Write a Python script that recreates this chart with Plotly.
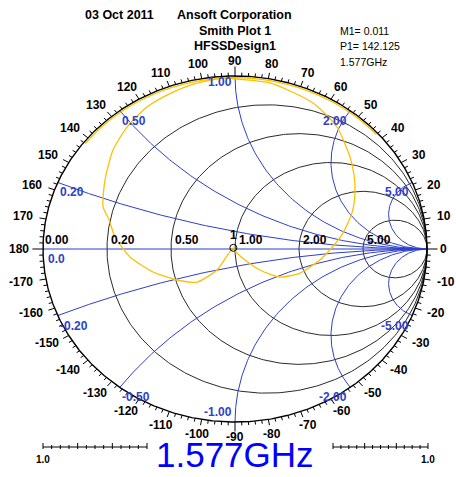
import numpy as np
import plotly.graph_objects as go

W, H = 456, 477
# chart geometry (pixels): centre and radii of the unit circle
CX, CY, RX, RY = 235.0, 249.0, 192.0, 173.0

# ---------------- data ----------------
resistance_values = [0.0, 0.2, 0.5, 1.0, 2.0, 5.0]
resistance_labels = ["0.00", "0.20", "0.50", "1.00", "2.00", "5.00"]
reactance_values = [0.0, 0.2, 0.5, 1.0, 2.0, 5.0, -0.2, -0.5, -1.0, -2.0, -5.0]
reactance_labels = ["0.0", "0.20", "0.50", "1.00", "2.00", "5.00",
                    "-0.20", "-0.50", "-1.00", "-2.00", "-5.00"]
angle_label_deg = [0, 10, 20, 30, 40, 50, 60, 70, 80, 90, 100, 110, 120, 130, 140,
                   150, 160, 170, 180, -170, -160, -150, -140, -130, -120, -110,
                   -100, -90, -80, -70, -60, -50, -40, -30, -20, -10]

# S11 trace (magnitude, phase in degrees)
s11_mag = [0.99, 0.99, 0.99, 0.99, 0.99, 0.99, 0.99, 0.99, 0.99,
           0.991, 0.977, 0.937, 0.883, 0.801, 0.753, 0.704, 0.644, 0.570, 0.480, 0.447,
           0.366, 0.285, 0.178, 0.082, 0.018, 0.011, 0.153, 0.275, 0.351, 0.447,
           0.549, 0.629, 0.677, 0.729, 0.786, 0.855, 0.902, 0.940, 0.960, 0.978,
           0.987,
           0.99, 0.99, 0.99, 0.99, 0.99, 0.99, 0.99, 0.99, 0.99, 0.99]
s11_phase = [142, 136, 130, 124, 118, 112, 106, 100, 96,
             94.5, 79.3, 64.3, 53.0, 41.6, 34.6, 27.4, 18.9, 9.3, -2.8, -8.2,
             -22.3, -34.7, -43.0, -50.7, -73.0, 142.125, -127.8, -136.0, -149.3, -162.7,
             -175.2, 173.7, 165.6, 160.5, 149.5, 138.0, 128.6, 119.2, 110.5, 102.8,
             95.5,
             93, 88, 82, 76, 70, 64, 58, 52, 46, 42]

marker_mag = 0.011
marker_phase = 142.125
marker_freq = "1.577GHz"

title_lines = ["Ansoft Corporation", "Smith Plot 1", "HFSSDesign1"]
date_text = "03 Oct 2011"
info_lines = ["M1= 0.011", "P1= 142.125", "1.577GHz"]

# ---------------- helpers ----------------
BLUE = "#2f3fc8"
GRID = "#2a2a2a"
YELLOW = "#FFC000"
FONT = "Arial, Liberation Sans, sans-serif"


def pxx(p):
    return p / W


def pxy(p):
    return 1 - p / H


fig = go.Figure()

# resistance circles
for r in resistance_values:
    if r == 0:
        continue
    t = np.linspace(0, 2 * np.pi, 361)
    c, a = r / (1 + r), 1 / (1 + r)
    fig.add_trace(go.Scatter(x=c + a * np.cos(t), y=a * np.sin(t), mode="lines",
                             line=dict(color=GRID, width=1), hoverinfo="skip"))

# reactance arcs
rr = np.concatenate([[0.0], np.logspace(-3, 3.5, 400)])
for xv in reactance_values:
    if xv == 0:
        gx, gy = [-1, 1], [0, 0]
    else:
        z = rr + 1j * xv
        g = (z - 1) / (z + 1)
        gx = np.append(g.real, 1.0)
        gy = np.append(g.imag, 0.0)
    fig.add_trace(go.Scatter(x=gx, y=gy, mode="lines",
                             line=dict(color=BLUE, width=1), hoverinfo="skip"))

# unit circle
t = np.linspace(0, 2 * np.pi, 721)
fig.add_trace(go.Scatter(x=np.cos(t), y=np.sin(t), mode="lines",
                         line=dict(color="black", width=1.4), hoverinfo="skip"))

# angle ticks
tx, ty = [], []
for d in range(0, 360, 2):
    th = np.deg2rad(d)
    if d % 90 == 0:
        L = 0.055
    elif d % 10 == 0:
        L = 0.034
    else:
        L = 0.02
    tx += [np.cos(th), (1 + L) * np.cos(th), None]
    ty += [np.sin(th), (1 + L) * np.sin(th), None]
fig.add_trace(go.Scatter(x=tx, y=ty, mode="lines",
                         line=dict(color="black", width=1), hoverinfo="skip"))

# S11 trace
ph = np.deg2rad(np.array(s11_phase))
mg = np.array(s11_mag)
fig.add_trace(go.Scatter(x=mg * np.cos(ph), y=mg * np.sin(ph), mode="lines",
                         line=dict(color=YELLOW, width=1.3, shape="spline", smoothing=0.6),
                         hoverinfo="skip"))

# marker
mp = np.deg2rad(marker_phase)
fig.add_trace(go.Scatter(x=[marker_mag * np.cos(mp)], y=[marker_mag * np.sin(mp)],
                         mode="markers+text", text=["<b>1</b>"], textposition="top center",
                         textfont=dict(family=FONT, size=12, color="black"),
                         marker=dict(symbol="circle-open", size=7, color="black",
                                     line=dict(width=1)),
                         hoverinfo="skip"))

ann = []
# angle labels
for d in angle_label_deg:
    th = np.deg2rad(d)
    s = str(d)
    w = 6.7 * len(s.replace("-", "")) + (4 if "-" in s else 0)
    ann.append(dict(x=1.055 * np.cos(th), y=1.055 * np.sin(th), xref="x", yref="y",
                    text="<b>%s</b>" % s, showarrow=False,
                    xshift=np.cos(th) * (w / 2 + 3), yshift=np.sin(th) * 5,
                    font=dict(family=FONT, size=12, color="black")))

# resistance labels
for r, lab in zip(resistance_values, resistance_labels):
    gx = (r - 1) / (r + 1)
    ann.append(dict(x=gx, y=0, xref="x", yref="y", text="<b>%s</b>" % lab,
                    showarrow=False, xanchor="left", yanchor="bottom",
                    xshift=0 if r == 0 else 2, yshift=0,
                    font=dict(family=FONT, size=12, color="black")))

# reactance labels
for xv, lab in zip(reactance_values, reactance_labels):
    z = 1j * xv
    g = (z - 1) / (z + 1)
    gx, gy = g.real, g.imag
    if xv == 0:
        gx, gy = -1.0, 0.0
    left = gx < -1e-9
    if xv == -1.0:
        ya, ys = "bottom", 1
    elif xv == 1.0:
        ya, ys = "top", 3
    else:
        ya, ys = "top", -1
    ann.append(dict(x=gx, y=gy, xref="x", yref="y", text="<b>%s</b>" % lab,
                    showarrow=False, xanchor="left" if left else "right",
                    yanchor=ya, xshift=(3 if xv == 0 else 0) if left else -1, yshift=ys,
                    font=dict(family=FONT, size=12, color=BLUE)))

# header
ann.append(dict(x=pxx(83), y=pxy(15), xref="paper", yref="paper", text="<b>%s</b>" % date_text,
                showarrow=False, xanchor="left", yanchor="middle",
                font=dict(family=FONT, size=12.5, color="black")))
ann.append(dict(x=pxx(175), y=pxy(15), xref="paper", yref="paper", text="<b>%s</b>" % title_lines[0],
                showarrow=False, xanchor="left", yanchor="middle",
                font=dict(family=FONT, size=12.5, color="black")))
for txt, yy in zip(title_lines[1:], [31, 46]):
    ann.append(dict(x=pxx(235), y=pxy(yy), xref="paper", yref="paper", text="<b>%s</b>" % txt,
                    showarrow=False, xanchor="center", yanchor="middle",
                    font=dict(family=FONT, size=12.5, color="black")))
for txt, yy in zip(info_lines, [31, 46, 62]):
    ann.append(dict(x=pxx(338), y=pxy(yy), xref="paper", yref="paper", text=txt,
                    showarrow=False, xanchor="left", yanchor="middle",
                    font=dict(family=FONT, size=10.5, color="black")))

# big frequency text
ann.append(dict(x=pxx(235), y=pxy(476), xref="paper", yref="paper", text=marker_freq,
                showarrow=False, xanchor="center", yanchor="bottom",
                font=dict(family=FONT, size=35, color="#0000FF")))

# bottom scale bars
shapes = []
for x0, x1 in [(43, 147), (333, 428)]:
    shapes.append(dict(type="line", xref="paper", yref="paper", x0=pxx(x0), x1=pxx(x1),
                       y0=pxy(447), y1=pxy(447), line=dict(color="black", width=1)))
    n = 12
    for i in range(n + 1):
        xx = x0 + (x1 - x0) * i / n
        h = 4 if i % 4 == 0 else 2
        shapes.append(dict(type="line", xref="paper", yref="paper", x0=pxx(xx), x1=pxx(xx),
                           y0=pxy(447 - h), y1=pxy(447 + 2), line=dict(color="black", width=1)))
for xx in [43, 428]:
    ann.append(dict(x=pxx(xx), y=pxy(459), xref="paper", yref="paper", text="<b>1.0</b>",
                    showarrow=False, xanchor="center", yanchor="middle",
                    font=dict(family=FONT, size=10, color="black")))

fig.update_layout(
    width=W, height=H, autosize=False,
    margin=dict(l=0, r=0, t=0, b=0, pad=0),
    paper_bgcolor="white", plot_bgcolor="white",
    showlegend=False,
    xaxis=dict(visible=False, range=[(0 - CX) / RX, (W - CX) / RX], fixedrange=True),
    yaxis=dict(visible=False, range=[-(H - CY) / RY, CY / RY], fixedrange=True),
    annotations=ann, shapes=shapes,
)

fig.write_html("out.html", config={"displayModeBar": False, "staticPlot": True},
               post_script="document.body.style.margin='0';document.body.style.overflow='hidden';")
